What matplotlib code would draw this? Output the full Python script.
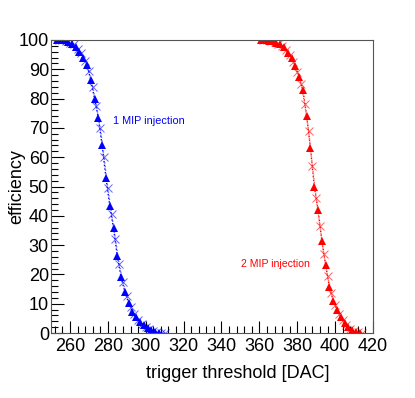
import matplotlib

matplotlib.use("Agg")
import matplotlib.pyplot as plt
from matplotlib.ticker import MultipleLocator

# 1 MIP injection (blue), two channels: triangles and crosses
BLUE_TRI_X = [253, 255, 257, 259, 261, 263, 265, 267, 269, 271, 273, 275, 277, 279, 281, 283,
              285, 287, 289, 291, 293, 295, 297, 299, 301, 303, 305, 307]
BLUE_TRI_Y = [100, 100, 100, 99.3, 98.5, 97.5, 96, 94, 91.5, 86.3, 80, 73.4, 64, 53, 43.5, 35.8,
              26.3, 19, 14, 10.3, 7.2, 5.3, 3.8, 2.6, 1.8, 1.0, 0.4, 0]
BLUE_X_X = [254, 256, 258, 260, 262, 264, 266, 268, 270, 272, 274, 276, 278, 280, 282,
            284, 286, 288, 290, 292, 294, 296, 298, 300, 302, 304, 306, 308, 310]
BLUE_X_Y = [100, 100, 99.8, 99, 98.5, 97, 95.5, 93, 89.5, 84, 77.5, 70, 60, 49.5, 40.5,
            32, 23.5, 17.5, 12.5, 9, 6.5, 4.5, 3.2, 2.2, 1.3, 0.7, 0.3, 0.1, 0]

# 2 MIP injection (red)
RED_TRI_X = [361, 363, 365, 367, 369, 371, 373, 375, 377, 379, 381, 383, 385, 387, 389, 391, 393,
             395, 397, 399, 401, 403, 405, 407, 409, 411, 413]
RED_TRI_Y = [100, 100, 99.8, 99.5, 99, 98.5, 97.5, 95.5, 93.8, 91, 87.5, 83, 74, 63, 50, 42, 31.5,
             23.2, 15.7, 11, 7.8, 5.5, 3.5, 2, 1, 0.4, 0]
RED_X_X = [362, 364, 366, 368, 370, 372, 374, 376, 378, 380, 382, 384, 386, 388, 390,
           392, 394, 396, 398, 400, 402, 404, 406, 408, 410, 412, 414]
RED_X_Y = [100, 99.9, 99.7, 99.3, 98.8, 98, 96.5, 95, 92.5, 89, 85, 78, 69, 57, 46,
           36.5, 27, 19.5, 13.5, 9.5, 6.5, 4.5, 2.8, 1.5, 0.7, 0.2, 0]


def draw(ax, tri_x, tri_y, x_x, x_y, color):
    ax.plot(x_x, x_y, color=color, linestyle=":", linewidth=1.0, marker="x", markersize=6,
            markeredgewidth=0.7, alpha=0.6)
    ax.plot(tri_x, tri_y, color=color, linestyle=":", linewidth=1.0, marker="^", markersize=6,
            markeredgewidth=0)


def main():
    plt.rcParams.update({"font.family": ["Liberation Sans", "DejaVu Sans"]})
    fig = plt.figure(figsize=(4.15, 3.98), dpi=100)
    ax = fig.add_axes([0.1229, 0.1633, 0.7759, 0.7362])

    draw(ax, BLUE_TRI_X, BLUE_TRI_Y, BLUE_X_X, BLUE_X_Y, "#0000ff")
    draw(ax, RED_TRI_X, RED_TRI_Y, RED_X_X, RED_X_Y, "#ff0000")

    ax.set_xlim(250, 420)
    ax.set_ylim(0, 100)
    ax.xaxis.set_major_locator(MultipleLocator(20))
    ax.xaxis.set_minor_locator(MultipleLocator(4))
    ax.yaxis.set_major_locator(MultipleLocator(10))
    ax.yaxis.set_minor_locator(MultipleLocator(2))
    ax.tick_params(which="both", direction="in", top=False, right=False, labelsize=13)
    ax.tick_params(which="major", length=9, width=0.8)
    ax.tick_params(which="minor", length=5, width=0.8)
    ax.tick_params(axis="y", pad=1.5)
    for side in ax.spines.values():
        side.set_linewidth(0.8)
        side.set_color("#555555")

    ax.set_xlabel("trigger threshold [DAC]", fontsize=13)
    ax.xaxis.set_label_coords(0.58, -0.11)
    ax.set_ylabel("efficiency", fontsize=13)
    ax.yaxis.set_label_coords(-0.08, 0.5)

    ax.text(282.5, 72.4, "1 MIP injection", color="#0000ff", fontsize=7.8, ha="left", va="center")
    ax.text(350.5, 23.5, "2 MIP injection", color="#ff0000", fontsize=7.6, ha="left", va="center")

    fig.savefig("out.png", dpi=100)
    plt.close(fig)


if __name__ == "__main__":
    main()
